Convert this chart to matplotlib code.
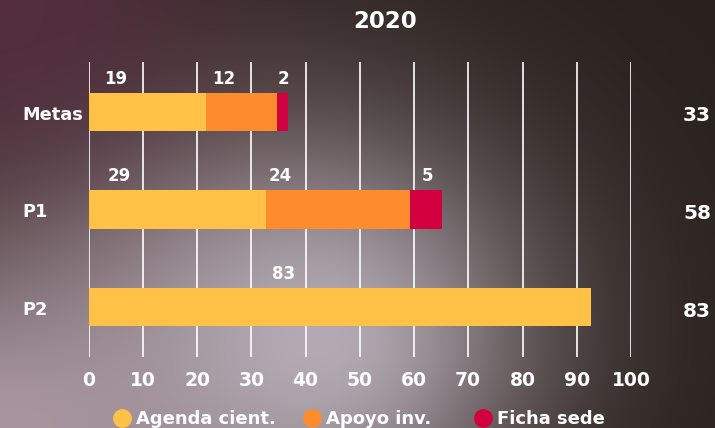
import numpy as np
import matplotlib.pyplot as plt
from matplotlib.lines import Line2D
from matplotlib.transforms import blended_transform_factory

plt.rcParams['font.family'] = ['DejaVu Sans']
plt.rcParams['font.weight'] = 'bold'

rows = ['Metas', 'P1', 'P2']
series = ['Agenda cient.', 'Apoyo inv.', 'Ficha sede']
colors = ['#FFC247', '#FE8C2E', '#D3003F']

# bar lengths as drawn on the axis
agenda_len = [21.6, 32.7, 92.7]
apoyo_len = [13.1, 26.5, 0]
ficha_len = [2.1, 5.9, 0]

# numbers printed above the segments
agenda_lab = [19, 29, 83]
apoyo_lab = [12, 24, 0]
ficha_lab = [2, 5, 0]
totals = [33, 58, 83]

# x position of the printed numbers (axis units)
agenda_lab_x = [5.1, 5.6, 35.9]
apoyo_lab_x = [25.0, 35.3, None]
ficha_lab_x = [35.9, 62.4, None]

xticks = [0, 10, 20, 30, 40, 50, 60, 70, 80, 90, 100]

W, H = 715, 428
fig = plt.figure(figsize=(W / 100, H / 100), dpi=100)

# background gradient
yy, xx = np.mgrid[0:H, 0:W]
base = np.array([40, 32, 28]) / 255.0
mid = np.array([122, 108, 110]) / 255.0
purple = np.array([84, 46, 62]) / 255.0
pink = np.array([168, 148, 158]) / 255.0
light = np.array([188, 180, 190]) / 255.0
w_m = np.exp(-(((xx - 230) / 300.0) ** 2 + ((yy - 300) / 230.0) ** 2))
w_p = np.exp(-((xx / 220.0) ** 2 + (yy / 200.0) ** 2))
w_k = np.exp(-((xx / 300.0) ** 2 + ((yy - 428) / 170.0) ** 2))
w_l = np.exp(-(((xx - 320) / 180.0) ** 2 + ((yy - 340) / 160.0) ** 2))
img = base[None, None, :] * np.ones((H, W, 1))
img = img + w_m[..., None] * (mid - img)
img = img + w_p[..., None] * (purple - img)
img = img + w_k[..., None] * (pink - img)
img = img + 0.85 * w_l[..., None] * (light - img)
bg = fig.add_axes([0, 0, 1, 1])
bg.imshow(np.clip(img, 0, 1), aspect='auto', extent=[0, 1, 0, 1])
bg.axis('off')

ax = fig.add_axes([88.5 / W, 1 - 357 / H, 542.5 / W, 295 / H])
ax.patch.set_alpha(0)
for s in ax.spines.values():
    s.set_visible(False)

y = np.arange(len(rows))
bh = 0.39
ax.barh(y, agenda_len, height=bh, color=colors[0], zorder=3)
ax.barh(y, apoyo_len, left=agenda_len, height=bh, color=colors[1], zorder=3)
left2 = np.array(agenda_len) + np.array(apoyo_len)
ax.barh(y, ficha_len, left=left2, height=bh, color=colors[2], zorder=3)

for t in xticks:
    ax.axvline(t, color='white', lw=1.2, zorder=1)

ax.set_xlim(0, 100)
ax.set_ylim(2.51, -0.51)
ax.set_xticks(xticks)
ax.set_yticks([])
ax.tick_params(axis='x', length=0, pad=10, labelcolor='white', labelsize=13.5)

labs = [agenda_lab, apoyo_lab, ficha_lab]
labx = [agenda_lab_x, apoyo_lab_x, ficha_lab_x]
for k in range(3):
    for i in range(len(rows)):
        if labs[k][i]:
            ax.text(labx[k][i], i - 0.34, str(labs[k][i]), color='white',
                    ha='center', va='center', fontsize=12, zorder=4)

for i, tot in enumerate(totals):
    ax.text(112.2, i + 0.04, str(tot), color='white', ha='center',
            va='center', fontsize=14.5, clip_on=False)

tr = blended_transform_factory(ax.transAxes, ax.transData)
for i, r in enumerate(rows):
    ax.text(-0.121, i + 0.03, r, transform=tr, color='white', ha='left',
            va='center', fontsize=12.8)

fig.text(385 / W, 1 - 22 / H, '2020', color='white', ha='center',
         va='center', fontsize=16.5)

# legend, one entry per series so each can sit where it does in the original
leg_x = [122, 312, 483]
for c, name, cx in zip(colors, series, leg_x):
    h = Line2D([], [], marker='o', ls='', markersize=12.5, color=c)
    fig.legend([h], [name], loc='center left',
               bbox_to_anchor=((cx - 7.2) / W, 1 - 419 / H),
               frameon=False, borderpad=0, borderaxespad=0,
               handlelength=0.8, handletextpad=0.38,
               labelcolor='white', fontsize=13)

fig.savefig('out.png', dpi=100)
